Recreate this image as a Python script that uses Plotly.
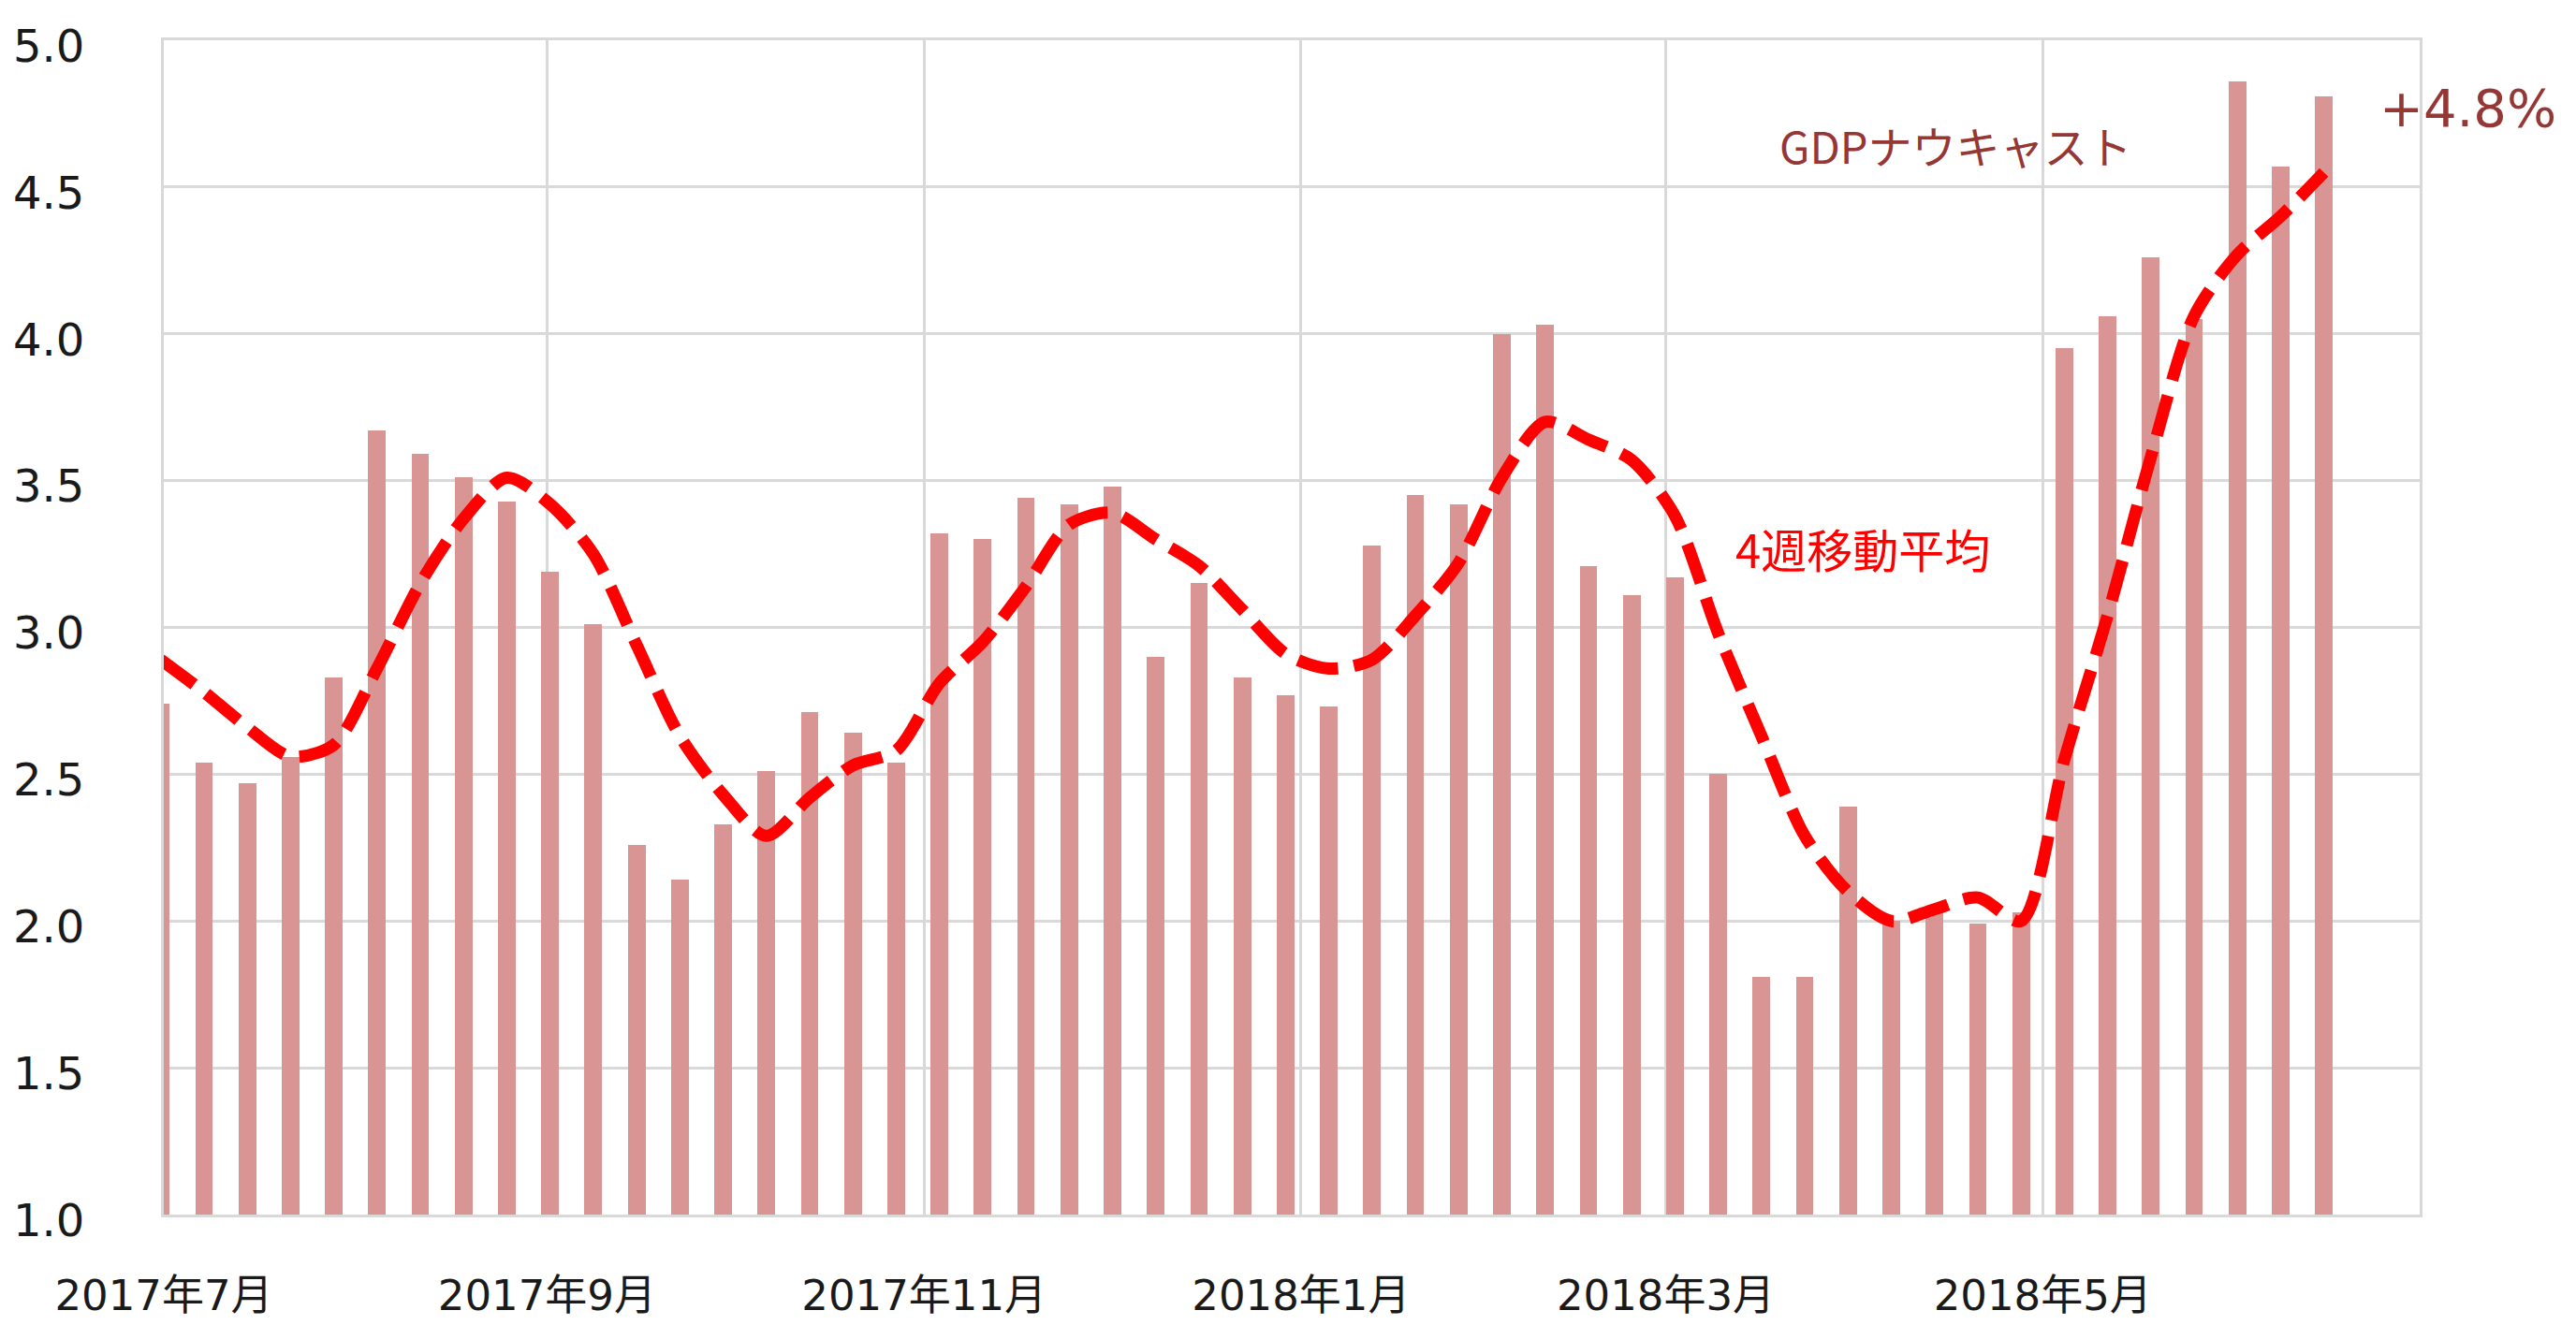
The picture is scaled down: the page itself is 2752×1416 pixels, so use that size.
import plotly.graph_objects as go

# weekly dates (Fridays)
weeks = [
    "2017-06-30", "2017-07-07", "2017-07-14", "2017-07-21", "2017-07-28",
    "2017-08-04", "2017-08-11", "2017-08-18", "2017-08-25", "2017-09-01",
    "2017-09-08", "2017-09-15", "2017-09-22", "2017-09-29", "2017-10-06",
    "2017-10-13", "2017-10-20", "2017-10-27", "2017-11-03", "2017-11-10",
    "2017-11-17", "2017-11-24", "2017-12-01", "2017-12-08", "2017-12-15",
    "2017-12-22", "2017-12-29", "2018-01-05", "2018-01-12", "2018-01-19",
    "2018-01-26", "2018-02-02", "2018-02-09", "2018-02-16", "2018-02-23",
    "2018-03-02", "2018-03-09", "2018-03-16", "2018-03-23", "2018-03-30",
    "2018-04-06", "2018-04-13", "2018-04-20", "2018-04-27", "2018-05-04",
    "2018-05-11", "2018-05-18", "2018-05-25", "2018-06-01", "2018-06-08",
    "2018-06-15",
]

# GDP nowcast (weekly bars)
nowcast = [
    2.74, 2.54, 2.47, 2.56, 2.83,
    3.67, 3.59, 3.51, 3.43, 3.19,
    3.01, 2.26, 2.14, 2.33, 2.51,
    2.71, 2.64, 2.54, 3.32, 3.30,
    3.44, 3.42, 3.48, 2.90, 3.15,
    2.83, 2.77, 2.73, 3.28, 3.45,
    3.42, 4.00, 4.03, 3.21, 3.11,
    3.17, 2.50, 1.81, 1.81, 2.39,
    2.00, 2.05, 1.99, 2.03, 3.95,
    4.06, 4.26, 4.05, 4.86, 4.57,
    4.81,
]

# 4-week moving average (dashed line)
ma4 = [
    2.89, 2.78, 2.66, 2.56, 2.60,
    2.86, 3.15, 3.37, 3.51, 3.42,
    3.25, 2.94, 2.63, 2.43, 2.29,
    2.42, 2.53, 2.58, 2.81, 2.95,
    3.14, 3.35, 3.39, 3.30, 3.21,
    3.06, 2.91, 2.86, 2.89, 3.04,
    3.22, 3.51, 3.70, 3.64, 3.57,
    3.38, 2.98, 2.63, 2.29, 2.10,
    2.00, 2.04, 2.08, 2.00, 2.55,
    3.04, 3.58, 4.06, 4.27, 4.40,
    4.55,
]

tick_dates = ["2017-07-01", "2017-09-01", "2017-11-01", "2018-01-01", "2018-03-01", "2018-05-01"]
tick_labels = ["2017年7月", "2017年9月", "2017年11月", "2018年1月", "2018年3月", "2018年5月"]
y_ticks = [1.0, 1.5, 2.0, 2.5, 3.0, 3.5, 4.0, 4.5, 5.0]

x = [d + " 12:00" for d in weeks]
DAY_MS = 86400000

fig = go.Figure()
fig.add_trace(go.Bar(
    x=x, y=nowcast, width=2.85 * DAY_MS,
    marker=dict(color="#D99594", line=dict(width=0)),
    name="GDPナウキャスト", showlegend=False,
))
fig.add_trace(go.Scatter(
    x=x, y=ma4, mode="lines",
    line=dict(color="#FF0000", width=13, dash="44px,17px", shape="spline", smoothing=0.8),
    name="4週移動平均", showlegend=False,
))

font_main = "DejaVu Sans, Verdana, Noto Sans CJK JP, sans-serif"
font_jp = "Noto Sans CJK JP, DejaVu Sans, sans-serif"

# the page body adds an 8px offset, so the figure is sized 8px smaller
fig.update_layout(
    width=2744, height=1408,
    margin=dict(l=167, r=167, t=35, b=118),
    paper_bgcolor="white", plot_bgcolor="white",
    bargap=0,
    font=dict(family=font_main, size=48, color="#1a1a1a"),
    xaxis=dict(
        type="date",
        range=["2017-07-01", "2018-07-01"],
        tickvals=tick_dates, ticktext=tick_labels,
        showgrid=True, gridcolor="#D9D9D9", gridwidth=3,
        showline=True, linecolor="#D9D9D9", linewidth=3, mirror=True,
        ticks="", ticklabelstandoff=45, automargin=False,
        tickfont=dict(family=font_main, size=45, color="#1a1a1a"),
        zeroline=False,
    ),
    yaxis=dict(
        range=[1.0, 5.0],
        tickvals=y_ticks, tickformat=".1f",
        showgrid=True, gridcolor="#D9D9D9", gridwidth=3,
        showline=True, linecolor="#D9D9D9", linewidth=3, mirror=True,
        ticks="", ticklabelstandoff=72, ticklabelshift=6, automargin=False,
        tickfont=dict(family=font_main, size=48, color="#1a1a1a"),
        zeroline=False,
    ),
    annotations=[
        dict(text="GDPナウキャスト", x=0.794, y=0.911, xref="paper", yref="paper",
             xanchor="center", yanchor="middle", showarrow=False,
             font=dict(family=font_jp, size=47, color="#953735")),
        dict(text="4週移動平均", x=0.7533, y=0.568, xref="paper", yref="paper",
             xanchor="center", yanchor="middle", showarrow=False,
             font=dict(family=font_jp, size=49, color="#FF0000")),
        dict(text="+4.8%", x=1.0214, y=0.942, xref="paper", yref="paper",
             xanchor="center", yanchor="middle", showarrow=False,
             font=dict(family=font_main, size=56, color="#953735")),
    ],
)

fig.write_html("out.html")
